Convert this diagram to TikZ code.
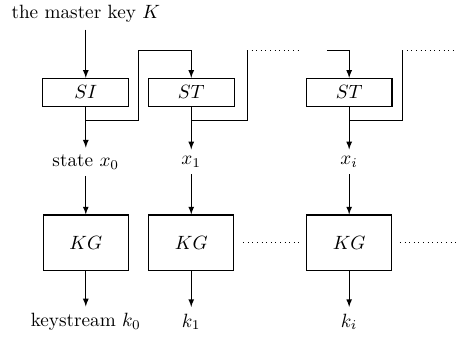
\documentclass[tikz,border=0pt]{standalone}
\usepackage{amssymb}
\usepackage{amsmath}
\usepackage{tikz}
\usetikzlibrary{arrows}
\usetikzlibrary{arrows.meta}

\begin{document}
\begin{tikzpicture}[stbox/.style={draw,semithick,minimum width=1.57cm,minimum height=0.51cm,inner sep=0pt},
kgbox/.style={draw,semithick,minimum width=1.56cm,minimum height=1.01cm,inner sep=0pt},
dots/.style={dotted}]
\useasboundingbox (0,0) rectangle (8.40,-6.15);
% state generation
\node (key) at (1.57,-0.26) {the master key $K$};
\node[stbox] (si) at (1.57,-1.69) {$SI$};
\node[stbox] (st1) at (3.50,-1.69) {$ST$};
\node[stbox] (sti) at (6.39,-1.69) {$ST$};
\node (x0) at (1.57,-2.96) {state $x_0$};
\node (x1) at (3.50,-2.96) {$x_1$};
\node (xi) at (6.39,-2.96) {$x_i$};
\coordinate (br0) at (2.53,-2.20);
\coordinate (tp0) at (2.53,-0.93);
\coordinate (br1) at (4.52,-2.20);
\coordinate (tp1) at (4.52,-0.93);
\coordinate (dt1) at (5.45,-0.93);
\coordinate (in2) at (5.98,-0.93);
\coordinate (br2) at (7.36,-2.20);
\coordinate (tp2) at (7.36,-0.93);
\coordinate (dt2) at (8.36,-0.93);
\draw[arrows={-latex}] (key) -- (si);
\draw[arrows={-latex}] (si) -- (x0);
\draw[arrows={-latex}] (st1) -- (x1);
\draw[arrows={-latex}] (sti) -- (xi);
\draw[arrows={-latex}] (si.south |- br0) -- (br0) -- (tp0) -| (st1.north);
\draw (st1.south |- br1) -- (br1) -- (tp1);
\draw[dots] (tp1) -- (dt1);
\draw[arrows={-latex}] (in2) -| (sti.north);
\draw (sti.south |- br2) -- (br2) -- (tp2);
\draw[dots] (tp2) -- (dt2);
% key generation
\node[kgbox] (kg0) at (1.57,-4.44) {$KG$};
\node[kgbox] (kg1) at (3.50,-4.44) {$KG$};
\node[kgbox] (kgi) at (6.39,-4.44) {$KG$};
\node (k0) at (1.57,-5.89) {keystream $k_0$};
\node (k1) at (3.50,-5.89) {$k_1$};
\node (ki) at (6.39,-5.89) {$k_i$};
\draw[arrows={-latex}] (x0) -- (kg0);
\draw[arrows={-latex}] (x1) -- (kg1);
\draw[arrows={-latex}] (xi) -- (kgi);
\draw[arrows={-latex}] (kg0) -- (k0);
\draw[arrows={-latex}] (kg1) -- (k1);
\draw[arrows={-latex}] (kgi) -- (ki);
\coordinate (d1a) at (4.45,-4.43);
\coordinate (d1b) at (5.49,-4.43);
\coordinate (d2a) at (7.32,-4.43);
\coordinate (d2b) at (8.36,-4.43);
\draw[dots] (d1a) -- (d1b);
\draw[dots] (d2a) -- (d2b);
\end{tikzpicture}
\end{document}
